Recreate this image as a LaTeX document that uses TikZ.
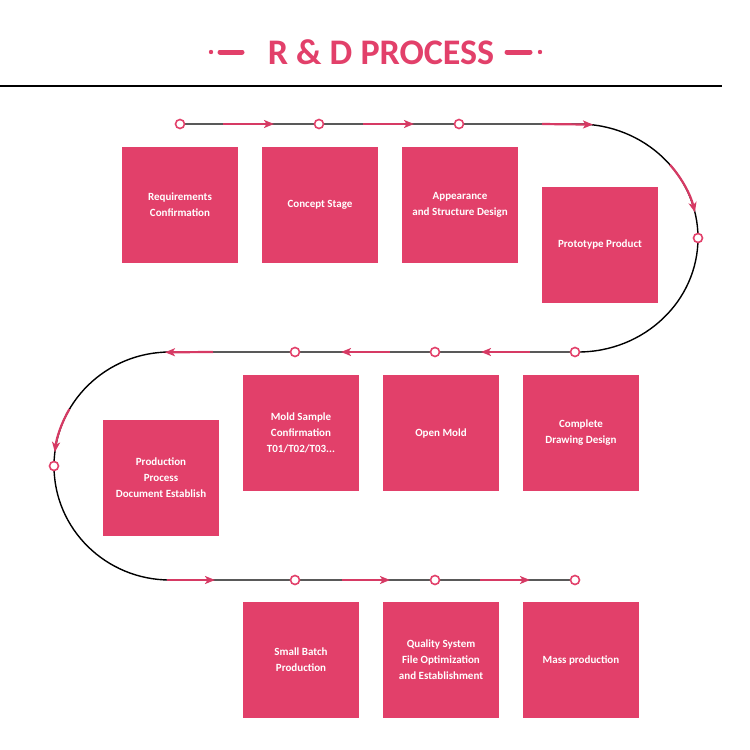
\documentclass[tikz,border=0pt]{standalone}
\usepackage{fontspec}
\setmainfont{Carlito}
\usetikzlibrary{arrows.meta}
\definecolor{rdpink}{HTML}{E2406A}
\definecolor{arrpink}{HTML}{D63A64}
\tikzset{
  box/.style={fill=rdpink, draw=none, minimum width=116pt, minimum height=116pt, inner sep=0pt,
    text=white, font=\bfseries\fontsize{11}{16}\selectfont, align=center},
  dotnode/.style={circle, draw=rdpink, fill=white, line width=1.6pt, minimum size=9pt, inner sep=0pt},
  track/.style={black, line width=1.4pt},
  pinkarr/.style={arrpink, line width=2.2pt, -{Stealth[length=10pt,width=8pt,inset=2.5pt]}}
}
\begin{document}
\begin{tikzpicture}[x=1pt,y=1pt]
\useasboundingbox (0,0) rectangle (750,-750);
% title
\node[anchor=base, text=rdpink, font=\bfseries\fontsize{36}{40}\selectfont] (title) at (381,-64) {R \& D PROCESS};
\fill[rdpink] (211,-52) circle (2.2pt);
\fill[rdpink] (540,-52) circle (2.2pt);
\draw[rdpink, line width=5pt, line cap=round] (220,-52) -- (242,-52);
\draw[rdpink, line width=5pt, line cap=round] (507,-52) -- (530,-52);
\draw[black, line width=2pt] (0,-86) -- (722,-86);
% track coordinates
\coordinate (tr) at (578,-124);
\coordinate (mr) at (578,-352);
\coordinate (ml) at (170,-352);
\coordinate (bl) at (170,-580);
% track
\draw[track] (180,-124) -- (tr) arc(90:-90:120 and 114) -- (ml) arc(90:270:116 and 114) -- (575,-580);
% pink arrows
\draw[pinkarr] (223,-124) -- (274,-124);
\draw[pinkarr] (363,-124) -- (414,-124);
\draw[pinkarr] (542,-124) -- (593,-124.6);
\draw[pinkarr] (669.9,-164.7) arc(40:13:120 and 114);
\draw[pinkarr] (530,-352) -- (481,-352);
\draw[pinkarr] (390,-352) -- (341,-352);
\draw[pinkarr] (213,-352) -- (165,-352.3);
\draw[pinkarr] (69.5,-409) arc(150:173:116 and 114);
\draw[pinkarr] (167,-580) -- (215,-580);
\draw[pinkarr] (342,-580) -- (390,-580);
\draw[pinkarr] (480,-580) -- (530,-580);
% circles
\node[dotnode] (t1) at (180,-124) {};
\node[dotnode] (t2) at (319,-124) {};
\node[dotnode] (t3) at (459,-124) {};
\node[dotnode] (r1) at (698,-238) {};
\node[dotnode] (m1) at (575,-352) {};
\node[dotnode] (m2) at (435,-352) {};
\node[dotnode] (m3) at (295,-352) {};
\node[dotnode] (l1) at (54,-466) {};
\node[dotnode] (b1) at (295,-580) {};
\node[dotnode] (b2) at (435,-580) {};
\node[dotnode] (b3) at (575,-580) {};
% boxes
\node[box] (s1) at (180,-205) {Requirements\\Confirmation};
\node[box] (s2) at (320,-205) {Concept Stage};
\node[box] (s3) at (460,-205) {Appearance\\and Structure Design};
\node[box] (s4) at (600,-245) {Prototype Product};
\node[box] (s5) at (581,-433) {Complete\\Drawing Design};
\node[box] (s6) at (441,-433) {Open Mold};
\node[box] (s7) at (301,-433) {Mold Sample\\Confirmation\\T01/T02/T03...};
\node[box] (s8) at (161,-478) {Production\\Process\\Document Establish};
\node[box] (s9) at (301,-660) {Small Batch\\Production};
\node[box] (s10) at (441,-660) {Quality System\\File Optimization\\and Establishment};
\node[box] (s11) at (581,-660) {Mass production};
\end{tikzpicture}
\end{document}
